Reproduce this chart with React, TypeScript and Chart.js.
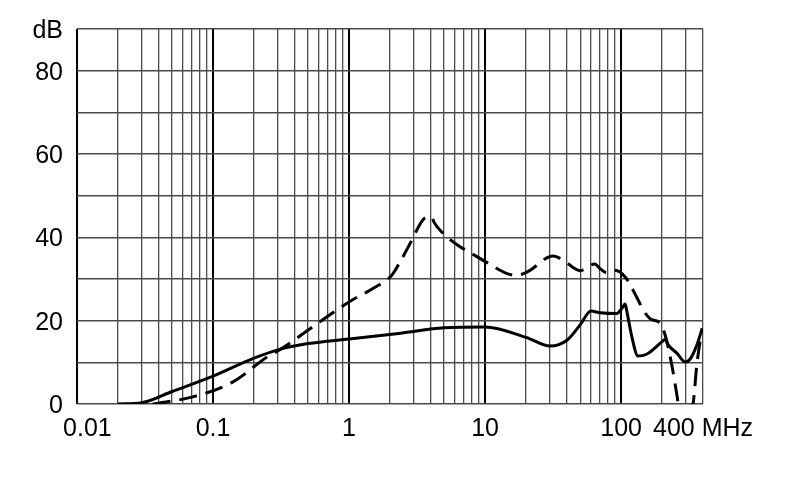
import { useEffect, useRef } from "react";
import { Chart, registerables } from "chart.js";

Chart.register(...registerables);

// solid curve
const solidFreq = [0.02, 0.03, 0.05, 0.1, 0.2, 0.3, 0.5, 1, 2.4, 5, 10, 20, 30, 40, 50, 60, 70, 93, 103, 107, 111, 120, 133, 155, 199, 211, 223, 257, 296, 322, 360, 395];
const solidDb = [0, 0.3, 3, 6.7, 11, 13, 14.5, 15.6, 17, 18.3, 18.5, 16, 13.9, 15.3, 19, 22.3, 21.9, 21.7, 23.3, 24, 21.7, 16.1, 11.5, 12, 14.9, 15.5, 14.1, 12.2, 10.1, 10.8, 14.1, 18.2];

// dashed curve
const dashFreq = [0.036, 0.071, 0.14, 0.25, 0.31, 0.54, 1, 1.55, 2.06, 2.37, 2.89, 3.2, 3.6, 4.06, 4.2, 4.8, 6.3, 7.8, 10.5, 14.5, 17, 20.4, 31.7, 37.5, 50, 64, 70, 78.5, 90, 107, 130, 146, 163, 194, 211, 236, 257, 290, 340, 360, 392];
const dashDb = [0, 1.7, 5.3, 11.3, 13, 18.5, 24.5, 28, 30.9, 34.1, 39.3, 42.2, 44.6, 44.9, 43.7, 41.3, 38.1, 36.3, 33.8, 31.3, 30.9, 31.7, 35.5, 34.5, 32, 33.6, 32.5, 31.5, 32.1, 30.5, 25.7, 22.5, 20.5, 19.3, 16.5, 9.3, 2.2, -8, 0.6, 9.3, 17.7];

// grid lines on the frequency axis
const xGrid = [
  0.01, 0.02, 0.03, 0.04, 0.05, 0.06, 0.07, 0.08, 0.09,
  0.1, 0.2, 0.3, 0.4, 0.5, 0.6, 0.7, 0.8, 0.9,
  1, 2, 3, 4, 5, 6, 7, 8, 9,
  10, 20, 30, 40, 50, 60, 70, 80, 90,
  100, 200, 300, 400,
];
const xDecades = [0.01, 0.1, 1, 10, 100];
const xLabels: Record<string, string> = {
  "0.01": "   0.01",
  "0.1": "0.1",
  "1": "1",
  "10": "10",
  "100": "100",
  "400": "400 MHz",
};
const yLabels: Record<string, string> = {
  "0": "0",
  "20": "20",
  "40": "40",
  "60": "60",
  "80": "80",
  "90": "dB",
};

const FONT = { family: "'Liberation Sans', Arial, sans-serif", size: 25 };

function isDecade(v: number) {
  return xDecades.some((d) => Math.abs(v - d) / d < 1e-6);
}

export default function App() {
  const canvasRef = useRef<HTMLCanvasElement>(null);

  useEffect(() => {
    if (!canvasRef.current) return;

    const chart = new Chart(canvasRef.current, {
      type: "line",
      data: {
        datasets: [
          {
            data: solidFreq.map((f, i) => ({ x: f, y: solidDb[i] })),
            borderColor: "#000",
            borderWidth: 3,
            pointRadius: 0,
            cubicInterpolationMode: "monotone",
          },
          {
            data: dashFreq.map((f, i) => ({ x: f, y: dashDb[i] })),
            borderColor: "#000",
            borderWidth: 3,
            borderDash: [18, 9],
            pointRadius: 0,
            cubicInterpolationMode: "monotone",
          },
        ],
      },
      options: {
        animation: false,
        responsive: true,
        maintainAspectRatio: false,
        layout: { padding: { left: 0, right: 87, top: 28, bottom: 0 } },
        plugins: {
          legend: { display: false },
          tooltip: { enabled: false },
        },
        scales: {
          x: {
            type: "logarithmic",
            min: 0.01,
            max: 400,
            afterBuildTicks: (scale: any) => {
              scale.ticks = xGrid.map((v) => ({ value: v }));
            },
            afterFit: (scale: any) => {
              scale.height = 95;
            },
            border: { display: false },
            grid: {
              drawTicks: false,
              color: (ctx: any) => (isDecade(ctx.tick.value) ? "#000" : "#4a4a4a"),
              lineWidth: (ctx: any) => (isDecade(ctx.tick.value) ? 2 : 1.3),
            },
            ticks: {
              autoSkip: false,
              maxRotation: 0,
              padding: 10,
              color: "#000",
              font: FONT,
              callback: (v: any) => xLabels[String(Number(v))] ?? "",
            },
          },
          y: {
            min: 0,
            max: 90,
            afterFit: (scale: any) => {
              scale.width = 77;
            },
            border: { display: false },
            grid: {
              drawTicks: false,
              color: "#4a4a4a",
              lineWidth: 1.5,
            },
            ticks: {
              stepSize: 10,
              padding: 14,
              labelOffset: 2,
              color: "#000",
              font: FONT,
              callback: (v: any) => yLabels[String(v)] ?? "",
            },
          },
        },
      },
    });

    return () => {
      chart.destroy();
    };
  }, []);

  return (
    <div style={{ position: "absolute", left: 0, top: 0, width: 790, height: 499, background: "#fff" }}>
      <canvas ref={canvasRef} />
    </div>
  );
}
